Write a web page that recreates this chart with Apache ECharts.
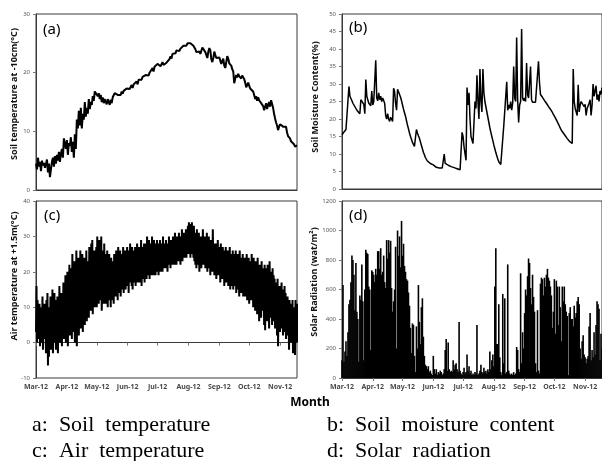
<!DOCTYPE html>
<html>
<head>
<meta charset="utf-8">
<script src="https://cdn.jsdelivr.net/npm/echarts@6/dist/echarts.min.js"></script>
<style>
html,body{margin:0;padding:0;background:#fff;}
#chart{width:602px;height:461px;}
</style>
</head>
<body>
<div id="chart"></div>
<script>
// Day index 0 = 1 Mar 2012
const monthLabels = ['Mar-12','Apr-12','May-12','Jun-12','Jul-12','Aug-12','Sep-12','Oct-12','Nov-12'];
const monthDays = [0, 31, 61, 92, 122, 153, 184, 214, 245];
const lastDay = 262;

// (a) Soil temperature at -10cm (°C), daily
const soilTemp = [
4.5,3.5,5.5,4,4.8,3.2,5,4.2,4.6,3.8,
4.4,5.2,3,4.5,2.2,3.5,4.8,5.5,4,5.8,
4.5,6,5,6.5,4.8,6.2,7,5.5,8.8,9,
7,8.5,6,8,7.5,9,6.5,8.2,5.5,9.5,
7,12,10.5,13.5,11,14,10.5,13,12,15,
12.5,14,13,15.5,13.8,15,14.5,16,15.2,16.8,
16.5,17,16,16.5,15.5,16.2,15,15.8,14.8,15.5,
15.2,14.6,15.5,15,14.5,15.4,14.8,15.8,16,16.5,
16.2,16.8,16.2,16,16.5,16.2,16.8,16.4,16.9,17.2,
16.8,17.3,17,17.6,17.2,17.5,17.9,17.4,18,17.8,
18.2,18.5,18,18.8,18.6,19.1,18.8,19.3,19.5,19.2,
19.6,19.3,19.9,19.5,20,19.7,20.3,20.8,20.2,21,
21.3,20.8,21.5,21.2,21.6,21.1,21.4,21.8,21.3,21.6,
21.2,21.7,22,21.6,22.3,22.8,22.4,23.2,23,23.5,
23.3,23.8,23.5,24,23.7,24.1,24.3,24,24.6,24.4,
24.8,24.6,25,24.8,25.2,25,25.3,25.1,24.6,24.8,
24,23.5,23.8,23.3,23.6,23.2,23.5,24.3,24.6,24,
23.5,23,22.5,23.6,24.2,23.8,22.3,21.8,22.5,23.6,
23,22.5,22.8,22.2,22.6,22.3,21.5,22,22.4,21.2,
20.8,21.8,22.8,22.4,21.6,21.8,21.2,20.6,20.2,18.2,
19,19.6,19.2,19.8,19.4,19.6,19,19.5,19.2,18.9,
18.3,17.5,17.9,18.3,17.8,17.3,17.6,17.2,16.8,16.2,
15.5,16,15.2,15.8,15.3,15.6,14.8,15.1,14.3,13.6,
14.2,14.8,13.8,14.5,15,14.2,15.3,15.1,14,13,
12.2,11.5,11,10.2,10.8,11.2,11,11.3,10.8,11.1,
10.5,10.8,9.8,9.2,9.5,8.8,8.3,8.6,8,7.8,
7.4,7.2,7.6
];

// (b) Soil moisture content (%), daily
const soilMoisture = [
15.5,16,16.3,16.8,17,17.2,17,29.3,26.5,26,
25.2,24.5,24.8,23.5,24,22.5,23,22,21.5,25.5,
26,25,24.2,21.5,31.3,26.5,25.5,24.5,25,23.8,
28,24,25,24.5,36.8,26,25.2,27.5,25.5,26.5,
25,26,25.5,24.5,21,20,21.5,20,19.3,20.5,
20,19.3,28.8,27.8,24.5,22.5,28.5,28.3,27,26.2,
25.2,24,22.8,21.8,20.8,19.5,18.2,17.2,16,15,
14.2,13.3,12.8,12.2,12,17,16,15.2,14.5,13.5,
12.5,11.5,10.5,9.8,9,8.5,8,7.8,7.5,7.3,
7.2,7,6.9,6.8,6.6,6.2,6,6,6,6,
6,6,6.1,10,7.3,7,6.9,6.8,6.6,6.5,
6.4,6.3,6.2,6.1,6,5.9,5.8,5.7,5.6,5.5,
5.5,16.2,15,12,10,8.2,29,24,27.5,20,
15,14,13,12.5,25,23,32.5,25,20,34.3,
25,22,34.3,27.5,25,23.5,22,20.5,19,17.5,
16.2,15,13.8,12.6,11.5,10.4,9.5,8.6,7.8,7.3,
7,7,7,18,18.5,17.8,30.6,22.5,24,23,
25,22.5,24.5,35,26,25,43.3,25.5,19,24,
25,45.7,26,25.2,26,25,36,27,26,25.5,
35,25.5,24.8,24.5,25,24.8,25.2,24.7,36.5,30.5,
27,26.6,26.2,25.8,25.3,24.9,24.5,24,23.6,23.2,
22.8,22.4,21.9,21.3,20.8,20.3,19.8,19.2,18.6,18,
17.4,16.8,16.4,16,15.6,15.2,14.8,14.4,14,13.7,
13.4,13.2,13,34.3,25,23,22,21,29.8,22,
24,25,24.5,25,23.5,24.2,21,23,22.5,24.5,
25.5,21,24,30,26.5,26,29.5,25.5,27,25,
28,27,29
];

// (c) Air temperature at +1.5m (°C), daily maximum and minimum
const airTempMax = [
16,12,9,11,8,10,13,7,11,9,
12,14,10,8,13,11,15,10,14,12,
9,13,11,16,12,14,10,17,13,19,
15,20,16,22,18,21,25,17,23,19,
26,20,24,18,26,22,25,19,24,21,
26,23,21,27,24,28,29,22,26,24,
27,30,25,29,24,30,26,22,28,25,
23,26,21,25,22,24,20,23,25,21,
26,23,27,24,26,22,25,27,24,26,
25,27,24,26,28,25,27,24,26,27,
25,28,26,27,25,29,27,26,28,27,
28,30,27,29,26,28,30,27,29,28,
27,29,28,26,29,27,28,30,27,28,
29,27,28,30,27,29,28,30,29,31,
28,30,29,31,28,30,32,29,31,30,
32,31,33,34,32,33.5,34,32,33,31,
30,32,29,31,28,30,29,32,28,30,
29,31,28,30,27,29,26,32,28,27,
28,26,29,27,25,28,26,27,24,26,
27,25,26,24,27,25,23,26,24,25,
26,24,25,23,26,24,22,25,23,24,
23,25,22,24,21,23,25,22,24,20,
23,21,24,20,22,19,23,21,20,22,
21,19,22,18,23,20,17,21,19,18,
17,15,18,14,16,13,17,15,12,16,
14,11,13,10,12,9,11,12,8,10,
12,9,11
];
const airTempMin = [
3,0,4,1,-1,2,0,-2,3,1,
-3,-1,-6.5,-4,0,-2,2,-3,1,0,
-2,1,-3,3,0,2,-1,4,1,3,
0,5,-1,4,2,6,1,3,7,0,
3,-1,5,2,8,4,6,3,9,5,
8,6,10,7,11,9,12,8,11,10,
12,10,13,11,14,12,9,13,11,12,
11,13,10,12,14,10,12,13,11,14,
13,15,12,16,14,13,15,17,14,16,
15,17,16,14,17,18,16,15,18,17,
16,18,17,19,17,18,16,19,18,17,
19,18,20,19,18,20,19,21,19,20,
19,21,20,19,21,20,22,20,21,22,
21,22,20,23,22,21,23,22,24,22,
23,22,24,23,25,22,24,23,25,24,
25,24,26,25,27,24,26,25,24,23,
22,21,23,22,20,23,21,22,24,22,
21,23,20,22,21,19,22,20,21,19,
20,18,21,19,20,17,19,18,20,16,
18,17,19,16,17,15,18,16,15,17,
16,14,17,15,13,16,14,15,13,14,
13,15,12,14,11,13,12,14,10,12,
9,11,8,12,6,10,7,9,11,5,
3.5,8,6,10,4,9,7,5,9,6,
4,7,2,-1,5,3,6,4,2,6,
3,1,5,2,-2,4,0,3,-3,1,
-3.5,2,0
];

// (d) Solar radiation (wat/m²), daily
const solarRad = [
120,630,110,180,250,150,310,500,530,650,
830,800,700,460,780,450,400,110,560,530,
770,520,120,600,870,850,840,620,600,190,
730,720,700,650,740,700,860,860,740,880,
700,720,830,650,610,935,810,935,850,930,
610,450,520,600,890,200,1000,830,960,750,
1065,830,910,760,720,670,660,580,490,340,
170,370,360,150,40,350,200,630,380,230,
480,540,280,150,90,80,60,80,40,50,
30,20,150,60,30,60,20,40,30,50,
40,20,30,60,190,265,50,240,60,40,
50,40,120,60,90,100,60,40,380,50,
30,20,40,70,30,40,160,50,80,30,
50,20,30,20,40,30,360,20,30,50,
90,40,30,70,40,50,30,60,40,180,
60,120,160,80,620,880,230,230,500,140,
40,20,570,100,540,30,40,770,50,30,
20,30,20,40,20,30,210,190,60,40,
710,100,310,200,440,600,560,690,810,780,
610,500,700,550,450,100,40,460,50,30,
640,680,670,560,680,620,700,740,680,660,
620,560,340,450,670,300,660,620,360,620,
480,250,620,520,620,500,450,420,20,440,
480,400,400,350,490,410,440,520,550,500,
200,130,250,290,160,140,100,130,150,350,
440,120,190,140,310,160,360,520,500,470,
120,300,200
];

const chart = echarts.init(document.getElementById('chart'), null, {renderer: 'canvas'});

const toPairs = arr => arr.map((v, i) => [i, v]);
const airZigzag = [];
airTempMin.forEach((v, i) => {
  airZigzag.push([i, v]);
  airZigzag.push([i + 0.5, airTempMax[i]]);
});

const grids = [
  {left: 36, top: 14, width: 261, height: 176},
  {left: 342, top: 14, width: 262, height: 175},
  {left: 36, top: 201, width: 261, height: 177},
  {left: 342, top: 201, width: 262, height: 177}
].map(g => Object.assign(g, {show: true, borderColor: '#3a3a3a', borderWidth: 1, backgroundColor: 'transparent'}));

function xAxis(gi, showLabels) {
  return {
    type: 'value', gridIndex: gi, min: 0, max: lastDay,
    axisLine: {show: true, lineStyle: {color: '#3a3a3a', width: 1}},
    splitLine: {show: false},
    axisTick: {show: showLabels, inside: false, length: 3, customValues: monthDays, lineStyle: {color: '#777'}},
    axisLabel: {
      show: showLabels, customValues: monthDays, margin: 5,
      fontFamily: 'Noto Sans', fontSize: 7, fontWeight: 'bold', color: '#4a4a4a',
      formatter: v => monthLabels[monthDays.indexOf(v)] || ''
    }
  };
}
function yAxis(gi, min, max, interval) {
  return {
    type: 'value', gridIndex: gi, min: min, max: max, interval: interval,
    axisLine: {show: true, lineStyle: {color: '#3a3a3a', width: 1}},
    splitLine: {show: false},
    axisTick: {show: true, inside: false, length: 3, lineStyle: {color: '#777'}},
    axisLabel: {margin: 6, fontFamily: 'Noto Sans', fontSize: 6, color: '#555', formatter: v => String(v)}
  };
}

function rotTitle(text, x, y) {
  return {type: 'text', x: x, y: y, rotation: Math.PI / 2,
    style: {text: text, font: 'bold 9px "Noto Sans"', fill: '#111', textAlign: 'center', textVerticalAlign: 'middle'}};
}
function plain(text, x, y, font, align) {
  return {type: 'text', x: x, y: y,
    style: {text: text, font: font, fill: '#000', textAlign: align || 'left', textVerticalAlign: 'middle'}};
}

chart.setOption({
  animation: false,
  backgroundColor: '#fff',
  grid: grids,
  xAxis: [xAxis(0, false), xAxis(1, false), xAxis(2, true), xAxis(3, true)],
  yAxis: [yAxis(0, 0, 30, 10), yAxis(1, 0, 50, 5), yAxis(2, -10, 40, 10), yAxis(3, 0, 1200, 200)],
  series: [
    {type: 'line', xAxisIndex: 0, yAxisIndex: 0, data: toPairs(soilTemp), showSymbol: false,
      lineStyle: {color: '#000', width: 2}},
    {type: 'line', xAxisIndex: 1, yAxisIndex: 1, data: toPairs(soilMoisture), showSymbol: false,
      lineStyle: {color: '#000', width: 1.5}},
    {type: 'line', xAxisIndex: 2, yAxisIndex: 2, data: airZigzag, showSymbol: false,
      lineStyle: {color: '#000', width: 2}},
    {type: 'bar', xAxisIndex: 3, yAxisIndex: 3, data: toPairs(solarRad), barWidth: 1.6,
      itemStyle: {color: '#000'}}
  ],
  graphic: [
    rotTitle('Soil temperature at -10cm(°C)', 14, 94),
    rotTitle('Soil Moisture Content(%)', 315, 97),
    rotTitle('Air temperature at +1.5m(°C)', 14, 276),
    rotTitle('Solar Radiation (wat/m²)', 314, 282),
    plain('(a)', 43, 30, '15px "Noto Sans"'),
    plain('(b)', 349, 28, '15px "Noto Sans"'),
    plain('(c)', 44, 216, '15px "Noto Sans"'),
    plain('(d)', 349, 216, '15px "Noto Sans"'),
    plain('Month', 310, 403, 'bold 12px "Noto Sans"', 'center'),
    plain('a:  Soil  temperature', 32, 425, '22px "Liberation Serif"'),
    plain('c:  Air  temperature', 32, 451, '22px "Liberation Serif"'),
    plain('b:  Soil  moisture  content', 327, 425, '22px "Liberation Serif"'),
    plain('d:  Solar  radiation', 327, 451, '22px "Liberation Serif"')
  ]
});
</script>
</body>
</html>
